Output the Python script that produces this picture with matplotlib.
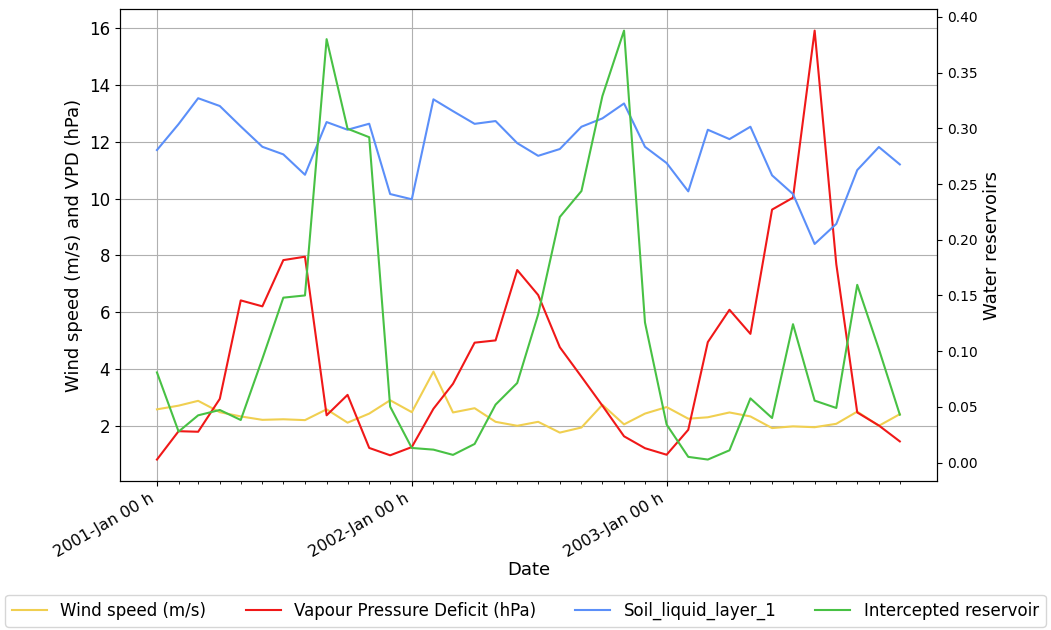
import matplotlib
matplotlib.use("Agg")
import matplotlib.pyplot as plt
import matplotlib.dates as mdates
import matplotlib.ticker as mticker
import numpy as np
import pandas as pd

dates = pd.date_range("2001-01-01", periods=36, freq="MS")

wind = [2.57, 2.70, 2.87, 2.47, 2.32, 2.20, 2.22, 2.19, 2.57, 2.10, 2.42, 2.89,
        2.47, 3.90, 2.46, 2.61, 2.13, 1.99, 2.13, 1.75, 1.93, 2.73, 2.04, 2.42,
        2.65, 2.24, 2.29, 2.46, 2.32, 1.91, 1.97, 1.94, 2.06, 2.49, 1.99, 2.40]

vpd = [0.80, 1.80, 1.78, 2.94, 6.41, 6.20, 7.83, 7.95, 2.36, 3.08, 1.21, 0.95,
       1.24, 2.59, 3.47, 4.92, 5.00, 7.48, 6.60, 4.76, 3.72, 2.70, 1.62, 1.20,
       0.97, 1.85, 4.94, 6.08, 5.23, 9.61, 10.03, 15.92, 7.69, 2.46, 2.00, 1.44]

soil = [0.2805, 0.3038, 0.3270, 0.3200, 0.3017, 0.2834, 0.2766, 0.2583, 0.3056, 0.2987, 0.3041, 0.2410,
        0.2363, 0.3260, 0.3154, 0.3040, 0.3065, 0.2867, 0.2753, 0.2814, 0.3014, 0.3089, 0.3223, 0.2834,
        0.2688, 0.2434, 0.2987, 0.2903, 0.3014, 0.2578, 0.2410, 0.1962, 0.2142, 0.2625, 0.2832, 0.2676]

intercepted = [0.0809, 0.0278, 0.0424, 0.0472, 0.0382, 0.0932, 0.1480, 0.1500, 0.3800, 0.2996, 0.2920, 0.0502,
               0.0131, 0.0116, 0.0069, 0.0167, 0.0520, 0.0714, 0.1330, 0.2204, 0.2437, 0.3289, 0.3877, 0.1257,
               0.0341, 0.0051, 0.0027, 0.0110, 0.0576, 0.0400, 0.1242, 0.0556, 0.0490, 0.1595, 0.1018, 0.0430]

labels = ["Wind speed (m/s)", "Vapour Pressure Deficit (hPa)", "Soil_liquid_layer_1", "Intercepted reservoir"]
colors = ["#f0cf50", "#f01818", "#5b8ff9", "#48c144"]

fig = plt.figure(figsize=(10.51, 6.30), dpi=100)
ax = fig.add_axes([0.114, 0.2365, 0.7775, 0.749])
ax2 = ax.twinx()

l1, = ax.plot(dates, wind, color=colors[0], lw=1.5, label=labels[0])
l2, = ax.plot(dates, vpd, color=colors[1], lw=1.5, label=labels[1])
l3, = ax2.plot(dates, soil, color=colors[2], lw=1.5, label=labels[2])
l4, = ax2.plot(dates, intercepted, color=colors[3], lw=1.5, label=labels[3])

month_nums = mdates.date2num(dates.to_pydatetime())
year_nums = [m for m, d in zip(month_nums, dates) if d.month == 1]
ax.xaxis.set_major_locator(mticker.FixedLocator(year_nums))
ax.xaxis.set_minor_locator(mticker.FixedLocator(month_nums))
ax.xaxis.set_major_formatter(mdates.DateFormatter("%Y-%b %H h"))
for t in ax.get_xticklabels():
    t.set_rotation(30)
    t.set_ha("right")
ax.tick_params(axis="x", labelsize=11.5)
ax.tick_params(axis="y", labelsize=12)
ax2.tick_params(axis="y", labelsize=10)
ax.grid(True, which="major", color="#b0b0b0", lw=0.8)

ax.set_xlabel("Date", fontsize=13, labelpad=1)
ax.set_ylabel("Wind speed (m/s) and VPD (hPa)", fontsize=13)
ax2.set_ylabel("Water reservoirs", fontsize=13)

fig.legend(handles=[l1, l2, l3, l4], loc="lower center", ncol=4, fontsize=12,
           bbox_to_anchor=(0.5, -0.008), columnspacing=2.35, handlelength=2.1)

fig.savefig("out.png", dpi=100)
